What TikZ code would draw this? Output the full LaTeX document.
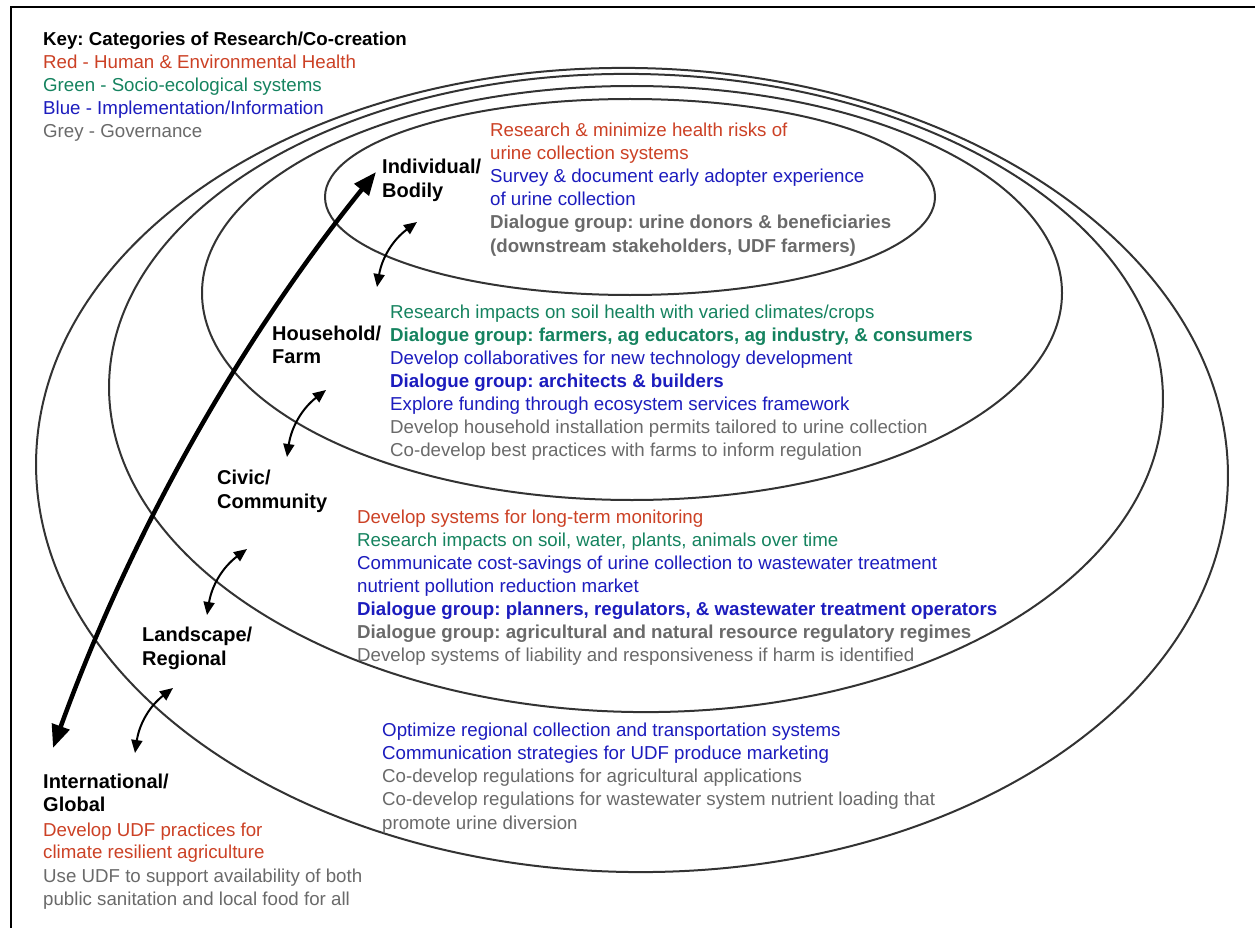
\documentclass[tikz,border=0pt]{standalone}
\usepackage{fontspec}
\setmainfont{Liberation Sans}
\usetikzlibrary{arrows.meta}
\frenchspacing
\definecolor{cred}{HTML}{CC4125}
\definecolor{cgreen}{HTML}{15835F}
\definecolor{cblue}{HTML}{1C1CBE}
\definecolor{cgrey}{HTML}{6A6A6A}
\definecolor{cline}{HTML}{333333}
\tikzset{
  body/.style={anchor=base west, inner sep=0pt, font=\fontsize{18.7}{23}\selectfont},
  bodyb/.style={anchor=base west, inner sep=0pt, font=\fontsize{18.7}{23}\selectfont\bfseries},
  lbl/.style={anchor=base west, inner sep=0pt, font=\fontsize{20}{24}\selectfont\bfseries},
  ring/.style={draw=cline, line width=2pt},
  bigarrow/.style={line width=4.5pt, {Triangle[length=23pt,width=18pt]}-{Triangle[length=23pt,width=18pt]}},
  smallarrow/.style={line width=2pt, {Triangle[length=13pt,width=11pt]}-{Triangle[length=13pt,width=11pt]}},
}
\begin{document}
\begin{tikzpicture}[x=1pt,y=-1pt]
\useasboundingbox (0,0) rectangle (1255,928);
\fill[white] (0,0) rectangle (1255,928);
% frame
\draw[line width=1.5pt] (11,928) -- (11,7) -- (1255,7);
% rings
\draw[ring, rotate around={-1:(632,470)}] (632,470) ellipse [x radius=596, y radius=402];
\draw[ring, rotate around={-1:(636,393)}] (636,393) ellipse [x radius=527, y radius=319];
\draw[ring] (632,293) ellipse [x radius=430, y radius=207];
\draw[ring] (630,197) ellipse [x radius=305, y radius=98];

% key
\node[bodyb] (k1) at (43,46) {Key: Categories of Research/Co-creation};
\node[body, text=cred] (k2) at (43,69) {Red - Human \& Environmental Health};
\node[body, text=cgreen] (k3) at (43,92) {Green - Socio-ecological systems};
\node[body, text=cblue] (k4) at (43,115) {Blue - Implementation/Information};
\node[body, text=cgrey] (k5) at (43,138) {Grey - Governance};

% individual
\node[lbl] (ind1) at (382,174) {Individual/};
\node[lbl] (ind2) at (382,197) {Bodily};
\node[body, text=cred] (i1) at (490,137) {Research \& minimize health risks of};
\node[body, text=cred] (i2) at (490,160) {urine collection systems};
\node[body, text=cblue] (i3) at (490,183) {Survey \& document early adopter experience};
\node[body, text=cblue] (i4) at (490,206) {of urine collection};
\node[bodyb, text=cgrey] (i5) at (490,229) {Dialogue group: urine donors \& beneficiaries};
\node[bodyb, text=cgrey] (i6) at (490,252) {(downstream stakeholders, UDF farmers)};

% household
\node[lbl] (hh1) at (272,340) {Household/};
\node[lbl] (hh2) at (272,363) {Farm};
\node[body, text=cgreen] (h1) at (390,318) {Research impacts on soil health with varied climates/crops};
\node[bodyb, text=cgreen] (h2) at (390,341) {Dialogue group: farmers, ag educators, ag industry, \& consumers};
\node[body, text=cblue] (h3) at (390,364) {Develop collaboratives for new technology development};
\node[bodyb, text=cblue] (h4) at (390,387) {Dialogue group: architects \& builders};
\node[body, text=cblue] (h5) at (390,410) {Explore funding through ecosystem services framework};
\node[body, text=cgrey] (h6) at (390,433) {Develop household installation permits tailored to urine collection};
\node[body, text=cgrey] (h7) at (390,456) {Co-develop best practices with farms to inform regulation};

% civic
\node[lbl] (cv1) at (217,484) {Civic/};
\node[lbl] (cv2) at (217,508) {Community};
\node[body, text=cred] (c1) at (357,523) {Develop systems for long-term monitoring};
\node[body, text=cgreen] (c2) at (357,546) {Research impacts on soil, water, plants, animals over time};
\node[body, text=cblue] (c3) at (357,569) {Communicate cost-savings of urine collection to wastewater treatment};
\node[body, text=cblue] (c4) at (357,592) {nutrient pollution reduction market};
\node[bodyb, text=cblue] (c5) at (357,615) {Dialogue group: planners, regulators, \& wastewater treatment operators};
\node[bodyb, text=cgrey] (c6) at (357,638) {Dialogue group: agricultural and natural resource regulatory regimes};
\node[body, text=cgrey] (c7) at (357,661) {Develop systems of liability and responsiveness if harm is identified};

% landscape
\node[lbl] (ls1) at (142,641) {Landscape/};
\node[lbl] (ls2) at (142,665) {Regional};
\node[body, text=cblue] (r1) at (382,736) {Optimize regional collection and transportation systems};
\node[body, text=cblue] (r2) at (382,759) {Communication strategies for UDF produce marketing};
\node[body, text=cgrey] (r3) at (382,782) {Co-develop regulations for agricultural applications};
\node[body, text=cgrey] (r4) at (382,805) {Co-develop regulations for wastewater system nutrient loading that};
\node[body, text=cgrey] (r5) at (382,829) {promote urine diversion};

% international
\node[lbl] (gl1) at (43,788) {International/};
\node[lbl] (gl2) at (43,811) {Global};
\node[body, text=cred] (g1) at (43,836) {Develop UDF practices for};
\node[body, text=cred] (g2) at (43,858) {climate resilient agriculture};
\node[body, text=cgrey] (g3) at (43,882) {Use UDF to support availability of both};
\node[body, text=cgrey] (g4) at (43,905) {public sanitation and local food for all};

% arrow end points
\coordinate (bigA) at (53,748);
\coordinate (bigB) at (376,172);
\coordinate (a1l) at (377,287); \coordinate (a1u) at (417,222);
\coordinate (a2l) at (287,457); \coordinate (a2u) at (326,390);
\coordinate (a3l) at (207,615); \coordinate (a3u) at (247,549);
\coordinate (a4l) at (135,753); \coordinate (a4u) at (173,688);

\draw[bigarrow] (bigA) .. controls (130,535) and (240,340) .. (bigB);
\draw[smallarrow] (a1l) to[bend left=22] (a1u);
\draw[smallarrow] (a2l) to[bend left=22] (a2u);
\draw[smallarrow] (a3l) to[bend left=22] (a3u);
\draw[smallarrow] (a4l) to[bend left=22] (a4u);
\end{tikzpicture}
\end{document}
